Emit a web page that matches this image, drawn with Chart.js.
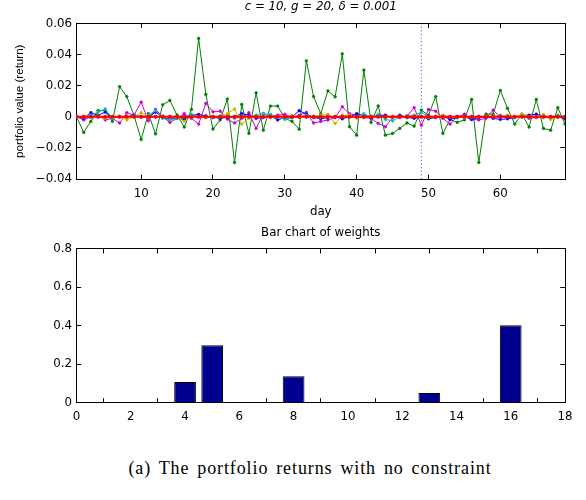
<!DOCTYPE html>
<html>
<head>
<meta charset="utf-8">
<script src="https://cdn.jsdelivr.net/npm/chart.js@4.4.1/dist/chart.umd.min.js"></script>
<style>
  html, body { margin: 0; padding: 0; background: #fff; overflow: hidden; }
  .panel { position: absolute; left: 0; }
  #caption { position: absolute; left: 0; width: 586px; padding-left: 34px; box-sizing: border-box; top: 458px;
             text-align: center; white-space: nowrap; letter-spacing: 0.9px; word-spacing: 2.5px;
             font-family: "Liberation Serif", "Times New Roman", serif; font-size: 18px; color: #000; }
</style>
</head>
<body>
<canvas id="returnsChart" class="panel" width="586" height="222" style="top:0"></canvas>
<canvas id="weightsChart" class="panel" width="586" height="200" style="top:222px"></canvas>
<div id="caption">(a) The portfolio returns with no constraint</div>
<script>
// ---- daily portfolio returns ----
const days = [1, 2, 3, 4, 5, 6, 7, 8, 9, 10, 11, 12, 13, 14, 15, 16, 17, 18, 19, 20,
  21, 22, 23, 24, 25, 26, 27, 28, 29, 30, 31, 32, 33, 34, 35, 36, 37, 38, 39, 40,
  41, 42, 43, 44, 45, 46, 47, 48, 49, 50, 51, 52, 53, 54, 55, 56, 57, 58, 59, 60,
  61, 62, 63, 64, 65, 66, 67, 68, 69];

const greenReturns = [0, -0.010, -0.003, 0.004, 0.004, -0.003, 0.0193, 0.013, 0.001, -0.0146,
  0.002, -0.011, 0.0077, 0.0105, 0.001, -0.0066, 0.0047, 0.0504, 0.0144, -0.0079,
  -0.002, 0.0114, -0.0294, 0.0079, -0.0107, 0.0154, -0.0086, 0.0069, 0.0069, -0.001,
  -0.003, -0.008, 0.036, 0.013, 0.002, 0.0167, 0.0128, 0.0405, -0.0064, -0.0118,
  0.030, -0.0036, 0.007, -0.0118, -0.0107, -0.0075, -0.004, -0.006, 0.0043, 0.001,
  0.013, -0.0107, -0.0017, -0.0036, -0.002, 0.0111, -0.0294, 0.0017, 0.0017, 0.0169,
  0.0054, -0.0047, 0.0017, -0.0066, 0.0111, -0.0075, -0.0086, 0.0058, -0.0047];

const magentaReturns = [0, -0.002, 0, 0.001, -0.002, -0.001, -0.004, 0.0026, 0.001, 0.0094,
  -0.0026, 0.0047, 0, -0.0036, -0.001, 0.002, -0.001, -0.0047, 0.0086, 0.0032,
  0.0036, -0.0015, -0.004, -0.001, 0.0026, -0.0075, 0.002, 0, 0.001, 0.0016,
  -0.0005, 0.001, 0.0028, -0.004, -0.003, -0.002, -0.0005, 0.0064, 0.002, 0.001,
  -0.0005, -0.001, -0.0043, -0.0064, -0.0005, -0.0005, 0.0004, 0.0058, -0.0054, 0.0047,
  0.0036, -0.001, -0.0047, 0, 0.0017, -0.0017, -0.002, -0.001, 0.0043, 0,
  -0.0005, 0, 0.0004, -0.001, -0.0005, 0.001, -0.001, 0, -0.0005];

const blueReturns = [0, -0.001, 0.0026, 0.001, 0.003, -0.0005, 0, 0, 0.001, 0,
  0, 0.003, -0.0005, -0.0017, -0.0005, -0.0017, 0.001, 0.0015, 0.0006, -0.0005,
  -0.0009, -0.0005, 0, 0.002, 0.001, -0.001, -0.0005, 0.0006, -0.002, -0.0005,
  0, 0.0039, 0.0017, -0.0005, -0.0013, -0.0005, 0, -0.0013, 0, 0.002,
  0.001, -0.0005, 0.001, 0.001, -0.0005, 0.001, -0.0005, -0.001, 0, -0.0013,
  -0.0005, 0.0004, -0.0017, -0.0005, 0, -0.0017, -0.0005, 0, -0.001, -0.0017,
  -0.0013, -0.0005, 0.001, 0.001, 0.0017, 0.0004, -0.0005, 0, -0.0013];

const cyanReturns = [0, 0, 0.001, 0.003, 0.005, -0.001, 0, 0, 0.0005, 0,
  0.001, 0.004, -0.001, -0.002, -0.001, 0, 0.0017, 0, -0.0005, 0,
  0.0005, 0, -0.001, 0.0005, 0, 0.001, 0.002, 0.0015, 0, -0.0017,
  -0.0005, 0, 0.001, 0, -0.0005, 0.0005, 0, 0.0005, 0.0004, 0,
  0.002, 0, 0.0015, -0.0017, -0.0026, 0, 0.0005, 0.001, 0.0028, 0,
  0, 0.0005, 0, -0.0005, 0, -0.0005, 0, 0.0005, 0, 0.001,
  0, -0.0005, 0.001, 0, 0, -0.0005, 0, 0.001, 0];

const yellowReturns = [0, 0, 0, 0.0005, -0.001, 0, 0, -0.002, 0, 0.0026,
  0, 0, 0.0005, -0.0005, 0, -0.003, 0, 0, -0.0005, 0,
  0, 0.002, 0.005, -0.0047, -0.001, 0.0005, 0, -0.0005, 0, 0,
  0.0005, 0, 0, 0, 0.001, 0.0015, -0.0043, 0.001, 0.001, -0.001,
  0, 0.0005, 0, 0, -0.0005, 0, 0, 0.0005, 0, -0.0005,
  0, 0.001, 0, 0, -0.0005, 0, 0, 0, 0.0005, 0,
  0.001, 0, 0.0017, 0, -0.0005, 0.0013, -0.0017, 0, 0];

const redReturns = [0, 0, 0, 0, 0, 0, 0, 0, 0, 0, 0, 0, 0, 0, 0, 0, 0, 0, 0, 0,
  0, 0, 0, 0, 0, 0, 0, 0, 0, 0, 0, 0, 0, 0, 0, 0, 0, 0, 0, 0,
  0, 0, 0, 0, 0, 0, 0, 0, 0, 0, 0, 0, 0, 0, 0, 0, 0, 0, 0, 0,
  0, 0, 0, 0, 0, 0, 0, 0, 0];

const splitDay = 49;
const dayTicks = [10, 20, 30, 40, 50, 60];
const returnTicks = [-0.04, -0.02, 0, 0.02, 0.04, 0.06];

// ---- weights per asset ----
const assets = [1, 2, 3, 4, 5, 6, 7, 8, 9, 10, 11, 12, 13, 14, 15, 16, 17];
const weights = [0, 0, 0, 0.108, 0.299, 0, 0, 0.138, 0, 0, 0, 0, 0.051, 0, 0, 0.403, 0];
const assetTicks = [0, 2, 4, 6, 8, 10, 12, 14, 16, 18];
const weightTicks = [0, 0.2, 0.4, 0.6, 0.8];

const FONT = '"DejaVu Sans", Verdana, sans-serif';
const tickFont = { family: FONT, size: 11.8 };
const yTitleFont = { family: '"Liberation Sans", Arial, sans-serif', size: 11.6 };

function toPoints(values) {
  return values.map((v, i) => ({ x: days[i], y: v }));
}

function fixedTicks(values) {
  return (scale) => { scale.ticks = values.map((v) => ({ value: v })); };
}

function fmtSigned(v, digits) {
  if (Math.abs(v) < 1e-9) return "0";
  return (v < 0 ? "\u2212" : "") + Math.abs(v).toFixed(digits);
}

// Axis frame: black border, tick marks pointing into the plot (negative tickLength).
function frameAxis(position, min, max, tickValues, tickLen, size, extra) {
  const horizontal = position === "top" || position === "bottom";
  return Object.assign({
    type: "linear",
    position,
    min,
    max,
    offset: false,
    afterBuildTicks: fixedTicks(tickValues),
    afterFit: (s) => { if (horizontal) s.height = size; else s.width = size; },
    grid: { display: true, drawOnChartArea: false, drawTicks: true, tickLength: -tickLen, color: "#000", lineWidth: 1 },
    border: { display: true, color: "#000", width: 1 },
    ticks: { display: false },
  }, extra || {});
}

function lineSeries(values, color, order, width, radius) {
  return {
    data: toPoints(values),
    borderColor: color,
    backgroundColor: color,
    borderWidth: width,
    pointRadius: radius,
    pointBorderWidth: 0.5,
    pointBorderColor: color,
    pointBackgroundColor: color,
    tension: 0,
    order,
  };
}

function renderReturnsChart() {
  const ctx = document.getElementById("returnsChart");
  const xMin = days[0], xMax = days[days.length - 1];
  const yMin = returnTicks[0], yMax = returnTicks[returnTicks.length - 1];
  new Chart(ctx, {
    type: "line",
    data: {
      datasets: [
        lineSeries(redReturns, "#ff0000", 0, 2, 1.8),
        lineSeries(yellowReturns, "#c8b400", 1, 1, 1.4),
        lineSeries(cyanReturns, "#00c0c0", 2, 1, 1.4),
        lineSeries(blueReturns, "#0000ff", 3, 1, 1.4),
        lineSeries(magentaReturns, "#d000d0", 4, 1, 1.4),
        lineSeries(greenReturns, "#008000", 5, 1, 1.4),
        {
          data: [{ x: splitDay, y: yMin }, { x: splitDay, y: yMax }],
          borderColor: "#3030ff",
          borderWidth: 1,
          borderDash: [1, 2.6],
          pointRadius: 0,
          order: 6,
        },
      ],
    },
    options: {
      responsive: false,
      animation: false,
      layout: { padding: { left: 0, right: 21, top: 0, bottom: 0 } },
      plugins: {
        legend: { display: false },
        tooltip: { enabled: false },
        title: {
          display: true,
          fullSize: false,
          text: "c = 10, g = 20, \u03b4 = 0.001",
          color: "#000",
          font: { family: FONT, size: 11.8, style: "italic", weight: "normal" },
          padding: { top: 0, bottom: 9.3 },
        },
      },
      scales: {
        x: frameAxis("bottom", xMin, xMax, dayTicks, 4.5, 43, {
          ticks: { display: true, color: "#000", font: tickFont, padding: 12.5, maxRotation: 0, autoSkip: false },
          title: { display: true, text: "day", color: "#000", font: tickFont, padding: { top: 0, bottom: 3 } },
        }),
        y: frameAxis("left", yMin, yMax, returnTicks, 4.7, 76.5, {
          ticks: { display: true, color: "#000", font: tickFont, padding: 9.2, callback: (v) => fmtSigned(v, 2) },
          title: { display: true, text: "portfolio value (return)", color: "#000", font: yTitleFont, padding: { top: 13, bottom: 0 } },
        }),
        xTop: frameAxis("top", xMin, xMax, dayTicks, 4.5, 0),
        yRight: frameAxis("right", yMin, yMax, returnTicks, 4.7, 0),
      },
    },
  });
}

function renderWeightsChart() {
  const ctx = document.getElementById("weightsChart");
  const xMin = assetTicks[0], xMax = assetTicks[assetTicks.length - 1];
  const yMin = weightTicks[0], yMax = weightTicks[weightTicks.length - 1];
  new Chart(ctx, {
    type: "bar",
    data: {
      datasets: [
        {
          data: assets.map((a, i) => ({ x: a, y: weights[i] })),
          backgroundColor: "#00008f",
          borderColor: "#000",
          borderWidth: 1,
          borderSkipped: "start",
          barPercentage: 0.8,
          categoryPercentage: 1.0,
        },
      ],
    },
    options: {
      responsive: false,
      animation: false,
      layout: { padding: { left: 0, right: 21, top: 0, bottom: 0 } },
      plugins: {
        legend: { display: false },
        tooltip: { enabled: false },
        title: {
          display: true,
          fullSize: false,
          text: "Bar chart of weights",
          color: "#000",
          font: { family: FONT, size: 11.8, weight: "normal" },
          padding: { top: 3.5, bottom: 9.3 },
        },
      },
      scales: {
        x: frameAxis("bottom", xMin, xMax, assetTicks, 4.5, 19.3, {
          ticks: { display: true, color: "#000", font: tickFont, padding: 11.5, maxRotation: 0, autoSkip: false },
        }),
        y: frameAxis("left", yMin, yMax, weightTicks, 4.7, 76.5, {
          ticks: { display: true, color: "#000", font: tickFont, padding: 9.2, callback: (v) => fmtSigned(v, 1).replace(/^0\.0$/, "0") },
        }),
        xTop: frameAxis("top", xMin, xMax, assetTicks, 4.5, 0),
        yRight: frameAxis("right", yMin, yMax, weightTicks, 4.7, 0),
      },
    },
  });
}

renderReturnsChart();
renderWeightsChart();
</script>
</body>
</html>
